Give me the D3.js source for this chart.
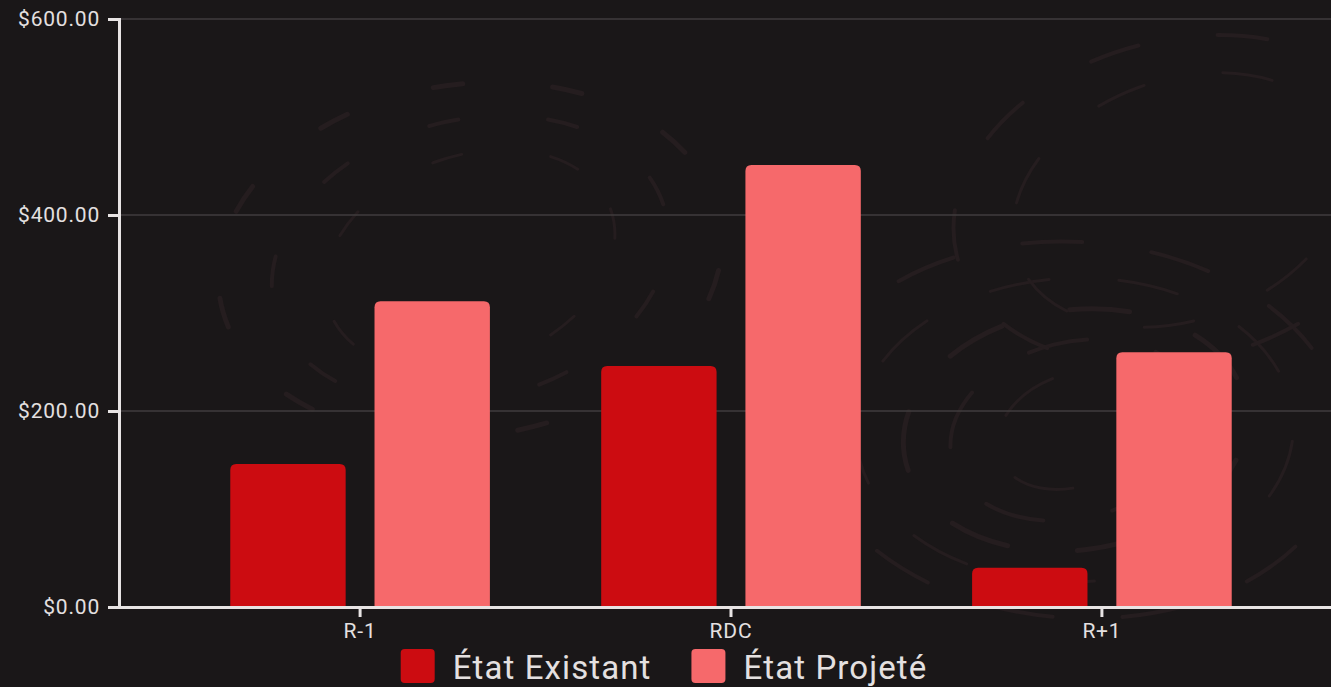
<!DOCTYPE html>
<html>
<head>
<meta charset="utf-8">
<script src="https://cdn.jsdelivr.net/npm/d3@7"></script>
<style>
  html, body { margin: 0; padding: 0; background: #1a1718; overflow: hidden; }
  #chart { width: 1331px; height: 687px; }
  text { font-family: Roboto, "Noto Sans", sans-serif; fill: #e4e0e0; }
</style>
</head>
<body>
<div id="chart"></div>
<script>
// data
const categories = ["R-1", "RDC", "R+1"];
const seriesNames = ["État Existant", "État Projeté"];
const existantValues = [146, 246, 40];
const projeteValues = [312, 451, 260];
const yTicks = [0, 200, 400, 600];

const colors = ["#cc0c11", "#f6696b"];

const width = 1331, height = 687;
const margin = { top: 19, left: 119, bottom: 80 };
const plotBottom = height - margin.bottom;

const svg = d3.select("#chart").append("svg")
   .attr("width", width)
   .attr("height", height);

svg.append("rect").attr("width", width).attr("height", height).attr("fill", "#1a1718");

// faint brush-stroke texture in the background
const swirls = [
   { cx: 1075, cy: 430, radii: [70, 110, 150, 190, 235], dash: "60 70" },
   { cx: 470, cy: 260, radii: [130, 175, 220], dash: "30 90" },
   { cx: 1180, cy: 200, radii: [150, 200], dash: "50 80" }
];
const texture = svg.append("g").attr("class", "texture");
swirls.forEach(s => {
   s.radii.forEach((r, i) => {
      texture.append("ellipse")
         .attr("cx", s.cx).attr("cy", s.cy)
         .attr("rx", r * 1.15).attr("ry", r * 0.8)
         .attr("fill", "none")
         .attr("stroke", "#251d1f")
         .attr("stroke-width", 3 + (i % 3))
         .attr("stroke-linecap", "round")
         .attr("stroke-dasharray", s.dash)
         .attr("stroke-dashoffset", i * 37)
         .attr("transform", "rotate(" + (-20 + i * 6) + "," + s.cx + "," + s.cy + ")");
   });
});

const y = d3.scaleLinear().domain([0, 600]).range([plotBottom, margin.top]);
const x0 = d3.scaleBand().domain(categories).range([margin.left, 1343]).paddingInner(0.3).paddingOuter(0.3);
const x1 = d3.scaleBand().domain(seriesNames).range([0, x0.bandwidth()]).paddingInner(0.2);

// gridlines
svg.append("g").attr("class", "grid")
   .selectAll("line").data(yTicks.filter(d => d > 0)).join("line")
   .attr("x1", margin.left).attr("x2", width)
   .attr("y1", d => y(d)).attr("y2", d => y(d))
   .attr("stroke", "#403d3e").attr("stroke-width", 1.5);

// bars
const rows = categories.map((c, i) => ({ cat: c, values: [existantValues[i], projeteValues[i]] }));
const r = 6;
const barPath = (bx, by, bw, bh) => {
   const rr = Math.min(r, bh, bw / 2);
   return "M" + bx + "," + (by + bh) +
      "V" + (by + rr) +
      "Q" + bx + "," + by + " " + (bx + rr) + "," + by +
      "H" + (bx + bw - rr) +
      "Q" + (bx + bw) + "," + by + " " + (bx + bw) + "," + (by + rr) +
      "V" + (by + bh) + "Z";
};
svg.append("g").selectAll("g").data(rows).join("g")
   .attr("transform", d => "translate(" + x0(d.cat) + ",0)")
   .selectAll("path").data(d => d.values.map((v, i) => ({ name: seriesNames[i], v, i })))
   .join("path")
   .attr("d", d => barPath(x1(d.name), y(d.v), x1.bandwidth(), plotBottom - y(d.v)))
   .attr("fill", d => colors[d.i]);

// axes
const axisColor = "#e8e4e4";
const yAxis = svg.append("g")
   .attr("transform", "translate(" + margin.left + ",0)")
   .call(d3.axisLeft(y).tickValues(yTicks).tickSize(11).tickPadding(8).tickFormat(d => "$" + d3.format(".2f")(d)));
const xAxis = svg.append("g")
   .attr("transform", "translate(0," + plotBottom + ")")
   .call(d3.axisBottom(x0).tickSize(10).tickSizeOuter(0).tickPadding(6));

[yAxis, xAxis].forEach(a => {
   a.attr("font-size", null).attr("font-family", null);
   a.select(".domain").attr("stroke", axisColor).attr("stroke-width", 3);
   a.selectAll(".tick line").attr("stroke", axisColor).attr("stroke-width", 3);
   a.selectAll(".tick text")
      .attr("fill", "#d6d2d2")
      .style("font-size", "21px")
      .style("letter-spacing", "0.8px");
});

// legend
const legend = svg.append("g").attr("class", "legend");
const items = legend.selectAll("g").data(seriesNames).join("g");
items.append("rect")
   .attr("width", 34).attr("height", 34).attr("rx", 4)
   .attr("y", 649)
   .attr("fill", (d, i) => colors[i]);
items.append("text")
   .attr("x", 52).attr("y", 679)
   .style("font-size", "33px")
   .style("letter-spacing", "1.1px")
   .attr("fill", "#e8e4e4")
   .text(d => d);
let lx = 0;
items.each(function () {
   d3.select(this).attr("transform", "translate(" + lx + ",0)");
   lx += 52 + this.querySelector("text").getComputedTextLength() + 40;
});
const legendWidth = lx - 40;
legend.attr("transform", "translate(" + (664 - legendWidth / 2) + ",0)");
</script>
</body>
</html>
